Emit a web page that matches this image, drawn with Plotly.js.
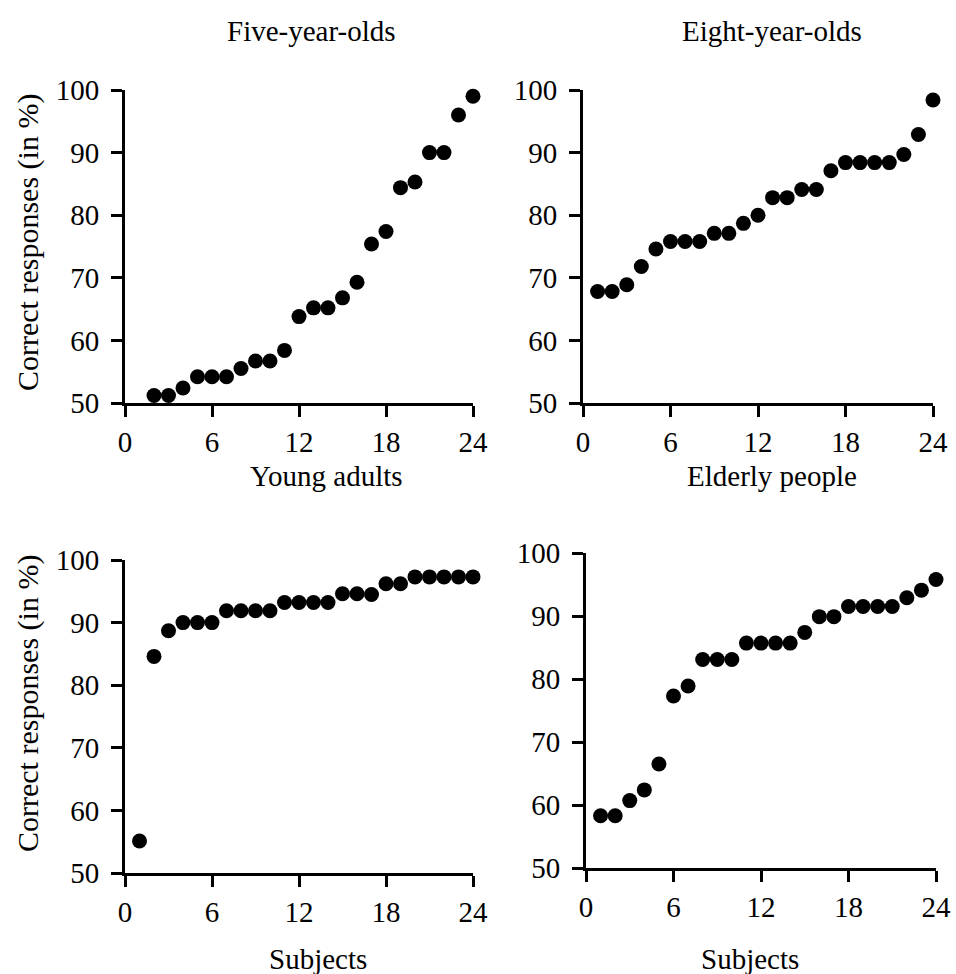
<!DOCTYPE html>
<html>
<head>
<meta charset="utf-8">
<script src="https://cdn.plot.ly/plotly-3.0.1.min.js"></script>
<style>
  html, body { margin: 0; padding: 0; background: #fff; }
  #chart { width: 956px; height: 974px; }
</style>
</head>
<body>
<div id="chart"></div>
<script>
// Percentage of correct responses per subject, sorted within each age group
const panelTitles = ["Five-year-olds", "Eight-year-olds", "Young adults", "Elderly people"];
const xTickVals = [0, 6, 12, 18, 24];
const yTickVals = [50, 60, 70, 80, 90, 100];

const fiveSubjects = [2, 3, 4, 5, 6, 7, 8, 9, 10, 11, 12, 13, 14, 15, 16, 17, 18, 19, 20, 21, 22, 23, 24];
const fiveScores = [51.2, 51.2, 52.4, 54.2, 54.2, 54.2, 55.5, 56.7, 56.7, 58.4, 63.8, 65.2,
                    65.2, 66.8, 69.3, 75.4, 77.4, 84.4, 85.3, 90.0, 90.0, 96.0, 99.0];

const eightSubjects = [1, 2, 3, 4, 5, 6, 7, 8, 9, 10, 11, 12, 13, 14, 15, 16, 17, 18, 19, 20, 21, 22, 23, 24];
const eightScores = [67.8, 67.8, 68.9, 71.8, 74.6, 75.8, 75.8, 75.8, 77.1, 77.1, 78.7, 80.0,
                     82.8, 82.8, 84.1, 84.1, 87.1, 88.4, 88.4, 88.4, 88.4, 89.7, 92.9, 98.4];

const adultSubjects = [1, 2, 3, 4, 5, 6, 7, 8, 9, 10, 11, 12, 13, 14, 15, 16, 17, 18, 19, 20, 21, 22, 23, 24];
const adultScores = [55.1, 84.6, 88.7, 90.0, 90.0, 90.0, 91.9, 91.9, 91.9, 91.9, 93.2, 93.2,
                     93.2, 93.2, 94.6, 94.6, 94.5, 96.2, 96.2, 97.3, 97.3, 97.3, 97.3, 97.3];

const elderlySubjects = [1, 2, 3, 4, 5, 6, 7, 8, 9, 10, 11, 12, 13, 14, 15, 16, 17, 18, 19, 20, 21, 22, 23, 24];
const elderlyScores = [58.3, 58.3, 60.7, 62.4, 66.5, 77.3, 78.9, 83.1, 83.1, 83.1, 85.7, 85.7,
                       85.7, 85.7, 87.4, 89.9, 89.9, 91.5, 91.5, 91.5, 91.5, 92.9, 94.1, 95.8];

const W = 956, H = 974;
const FONT = "Liberation Serif, Times New Roman, serif";

// Plot boxes in pixels: [left, right, top, bottom]
const boxes = [
  [125, 473, 90, 403],
  [583, 933, 90, 403],
  [125, 473, 560, 873],
  [586, 936, 553, 868]
];

const series = [
  [fiveSubjects, fiveScores],
  [eightSubjects, eightScores],
  [adultSubjects, adultScores],
  [elderlySubjects, elderlyScores]
];

const traces = [];
const layout = {
  width: W, height: H,
  margin: { l: 0, r: 0, t: 0, b: 0 },
  paper_bgcolor: "#ffffff",
  plot_bgcolor: "rgba(0,0,0,0)",
  showlegend: false,
  font: { family: FONT, size: 29, color: "#000" },
  annotations: []
};

function axisBase() {
  return {
    showline: true, linecolor: "#000", linewidth: 3,
    ticks: "outside", ticklen: 11, tickwidth: 3, tickcolor: "#000",
    showgrid: false, zeroline: false, fixedrange: true,
    tickfont: { family: FONT, size: 29, color: "#000" }
  };
}

series.forEach(([xs, ys], i) => {
  const n = i + 1;
  const [l, r, t, b] = boxes[i];
  const xa = n === 1 ? "x" : "x" + n;
  const ya = n === 1 ? "y" : "y" + n;
  traces.push({
    type: "scatter", mode: "markers",
    x: xs, y: ys, xaxis: xa, yaxis: ya,
    marker: { color: "#000", size: 15, line: { width: 0 } },
    cliponaxis: false, hoverinfo: "x+y"
  });
  layout["xaxis" + (n === 1 ? "" : n)] = Object.assign(axisBase(), {
    domain: [l / W, r / W], anchor: ya,
    range: [0, 24], tickmode: "array", tickvals: xTickVals,
    ticklabelstandoff: 0
  });
  layout["yaxis" + (n === 1 ? "" : n)] = Object.assign(axisBase(), {
    domain: [1 - b / H, 1 - t / H], anchor: xa,
    range: [50, 100], tickmode: "array", tickvals: yTickVals,
    ticklabelstandoff: 6
  });
});

// Panel titles
const titlePos = [[311, 31], [772, 31], [326, 476], [772, 476]];
panelTitles.forEach((txt, i) => {
  layout.annotations.push({
    text: txt, xref: "paper", yref: "paper",
    x: titlePos[i][0] / W, y: 1 - titlePos[i][1] / H,
    xanchor: "center", yanchor: "middle", showarrow: false,
    font: { family: FONT, size: 29, color: "#000" }
  });
});

// Shared axis titles on the outer panels
[[28, 243], [28, 704]].forEach(([px, py]) => {
  layout.annotations.push({
    text: "Correct responses (in %)", xref: "paper", yref: "paper",
    x: px / W, y: 1 - py / H, textangle: -90,
    xanchor: "center", yanchor: "middle", showarrow: false,
    font: { family: FONT, size: 30, color: "#000" }
  });
});
[[318, 959], [750, 959]].forEach(([px, py]) => {
  layout.annotations.push({
    text: "Subjects", xref: "paper", yref: "paper",
    x: px / W, y: 1 - py / H,
    xanchor: "center", yanchor: "middle", showarrow: false,
    font: { family: FONT, size: 29, color: "#000" }
  });
});

Plotly.newPlot("chart", traces, layout, { staticPlot: true, displayModeBar: false });
</script>
</body>
</html>
